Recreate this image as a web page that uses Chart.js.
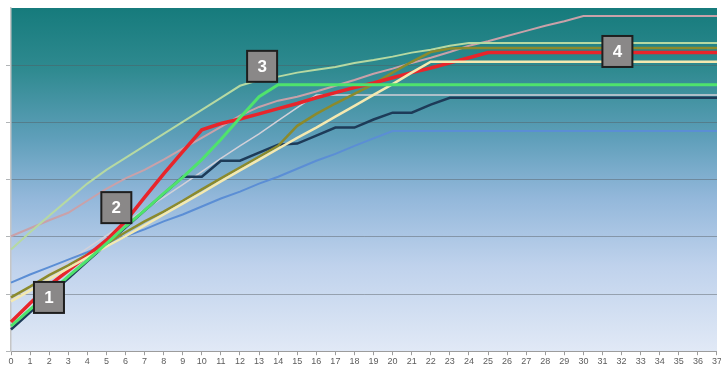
<!DOCTYPE html>
<html>
<head>
<meta charset="utf-8">
<script src="https://cdn.jsdelivr.net/npm/chart.js@4.4.1/dist/chart.umd.min.js"></script>
<style>
  html, body { margin: 0; padding: 0; background: #ffffff; overflow: hidden; width: 721px; height: 368px; }
  #wrap { position: relative; width: 723px; height: 368px; }
</style>
</head>
<body>
<div id="wrap"><canvas id="c"></canvas></div>
<script>
// Time steps along the horizontal axis
const steps = ['0','1','2','3','4','5','6','7','8','9','10','11','12','13','14','15','16','17','18','19',
  '20','21','22','23','24','25','26','27','28','29','30','31','32','33','34','35','36','37'];

// Cumulative progress of each run
const redRun = [0.51,0.84,1.15,1.41,1.67,1.94,2.27,2.69,3.10,3.49,3.87,3.98,4.06,4.15,4.24,4.33,4.43,4.52,4.61,4.69,
  4.78,4.87,4.95,5.04,5.13,5.22,5.22,5.22,5.22,5.22,5.22,5.22,5.22,5.22,5.22,5.22,5.22,5.22];
const navyRun = [0.38,0.68,0.98,1.27,1.57,1.87,2.16,2.46,2.75,3.05,3.05,3.33,3.33,3.47,3.61,3.63,3.77,3.91,3.91,4.05,
  4.17,4.17,4.31,4.43,4.43,4.43,4.43,4.43,4.43,4.43,4.43,4.43,4.43,4.43,4.43,4.43,4.43,4.43];
const greenRun = [0.44,0.73,1.01,1.31,1.59,1.88,2.18,2.46,2.76,3.04,3.35,3.70,4.08,4.45,4.66,4.66,4.66,4.66,4.66,4.66,
  4.66,4.66,4.66,4.66,4.66,4.66,4.66,4.66,4.66,4.66,4.66,4.66,4.66,4.66,4.66,4.66,4.66,4.66];
const paleGreenRun = [1.78,2.08,2.37,2.65,2.93,3.17,3.38,3.59,3.80,4.01,4.22,4.43,4.64,4.74,4.80,4.87,4.92,4.97,5.04,5.09,
  5.15,5.22,5.27,5.34,5.39,5.39,5.39,5.39,5.39,5.39,5.39,5.39,5.39,5.39,5.39,5.39,5.39,5.39];
const pinkRun = [2.01,2.15,2.29,2.42,2.63,2.84,3.02,3.17,3.35,3.54,3.73,3.92,4.12,4.27,4.38,4.45,4.54,4.64,4.74,4.85,
  4.94,5.04,5.13,5.23,5.34,5.42,5.51,5.60,5.69,5.77,5.86,5.86,5.86,5.86,5.86,5.86,5.86,5.86];
const oliveRun = [0.94,1.13,1.33,1.50,1.69,1.88,2.08,2.27,2.44,2.63,2.83,3.02,3.21,3.40,3.59,3.94,4.15,4.33,4.50,4.67,
  4.87,5.06,5.23,5.29,5.30,5.30,5.30,5.30,5.30,5.30,5.30,5.30,5.30,5.30,5.30,5.30,5.30,5.30];
const creamRun = [0.87,1.06,1.26,1.45,1.64,1.83,2.01,2.20,2.39,2.58,2.77,2.97,3.16,3.35,3.54,3.73,3.91,4.10,4.29,4.48,
  4.67,4.87,5.06,5.06,5.06,5.06,5.06,5.06,5.06,5.06,5.06,5.06,5.06,5.06,5.06,5.06,5.06,5.06];
const blueRun = [1.20,1.34,1.47,1.60,1.73,1.87,2.01,2.13,2.27,2.39,2.53,2.67,2.79,2.93,3.05,3.19,3.33,3.45,3.59,3.72,
  3.85,3.85,3.85,3.85,3.85,3.85,3.85,3.85,3.85,3.85,3.85,3.85,3.85,3.85,3.85,3.85,3.85,3.85];
const greyRun = [0.91,1.13,1.36,1.57,1.80,2.02,2.25,2.48,2.69,2.91,3.14,3.37,3.59,3.80,4.03,4.26,4.48,4.48,4.48,4.48,
  4.48,4.48,4.48,4.48,4.48,4.48,4.48,4.48,4.48,4.48,4.48,4.48,4.48,4.48,4.48,4.48,4.48,4.48];

// Numbered call-outs: label, step, level
const calloutText = ['1', '2', '3', '4'];
const calloutStep = [1.99, 5.52, 13.16, 31.78];
const calloutLevel = [0.94, 2.51, 4.98, 5.24];

// Plot-area fill: teal at the top fading to pale blue at the bottom
const plotBackground = {
  id: 'plotBackground',
  beforeDraw(chart) {
    const { ctx, chartArea: a } = chart;
    const g = ctx.createLinearGradient(0, a.top, 0, a.bottom);
    g.addColorStop(0.00, '#167b7c');
    g.addColorStop(0.18, '#2f8a90');
    g.addColorStop(0.38, '#5f9fba');
    g.addColorStop(0.55, '#92b7da');
    g.addColorStop(0.75, '#bfd2ec');
    g.addColorStop(1.00, '#e1e9f6');
    ctx.save();
    ctx.fillStyle = g;
    ctx.fillRect(a.left, a.top, a.right - a.left, a.bottom - a.top);
    ctx.restore();
  }
};

// Grey numbered boxes drawn over the lines
const callouts = {
  id: 'callouts',
  afterDatasetsDraw(chart) {
    const { ctx, scales: { x, y } } = chart;
    ctx.save();
    calloutText.forEach((t, i) => {
      const cx = x.getPixelForValue(calloutStep[i]);
      const cy = y.getPixelForValue(calloutLevel[i]);
      const w = 30, h = 31;
      ctx.fillStyle = '#8a8888';
      ctx.fillRect(cx - w / 2, cy - h / 2, w, h);
      ctx.lineWidth = 2;
      ctx.strokeStyle = '#1e1e1e';
      ctx.strokeRect(cx - w / 2, cy - h / 2, w, h);
      ctx.fillStyle = '#ffffff';
      ctx.font = 'bold 17px "Liberation Sans", Arial, sans-serif';
      ctx.textAlign = 'center';
      ctx.textBaseline = 'middle';
      ctx.fillText(t, cx, cy + 1);
    });
    ctx.restore();
  }
};

function run(data, color, width) {
  return {
    data: data,
    borderColor: color,
    borderWidth: width,
    pointRadius: 0,
    pointHoverRadius: 0,
    tension: 0,
    fill: false
  };
}

new Chart(document.getElementById('c'), {
  type: 'line',
  data: {
    labels: steps,
    datasets: [
      run(greenRun, '#4fe36c', 3),
      run(creamRun, '#f4e9b0', 2.5),
      run(redRun, '#e8252b', 3.5),
      run(oliveRun, '#8b8a2c', 2.5),
      run(navyRun, '#1d3b58', 2.5),
      run(paleGreenRun, '#b6d9a2', 2),
      run(pinkRun, '#c9a1a9', 2),
      run(blueRun, '#5b8ed5', 2),
      run(greyRun, '#d2d0d8', 1.5)
    ]
  },
  options: {
    responsive: true,
    maintainAspectRatio: false,
    animation: false,
    events: [],
    layout: { padding: { top: 8, left: 6, right: 0, bottom: 0 } },
    plugins: {
      legend: { display: false },
      tooltip: { enabled: false },
      title: { display: false }
    },
    scales: {
      x: {
        type: 'category',
        offset: false,
        grid: {
          display: true,
          drawOnChartArea: false,
          drawTicks: true,
          tickLength: 4,
          color: '#9c9c9c'
        },
        border: { display: true, color: '#9c9c9c', width: 1 },
        ticks: {
          autoSkip: false,
          maxRotation: 0,
          minRotation: 0,
          padding: 1,
          color: '#5c5c5c',
          font: { family: '"Liberation Sans", Arial, sans-serif', size: 9 }
        }
      },
      y: {
        type: 'linear',
        min: 0,
        max: 6,
        ticks: { display: false, stepSize: 1 },
        grid: {
          drawTicks: true,
          tickLength: 5,
          lineWidth: 1,
          color: (c) => (c.tick && c.tick.value === 6) ? 'rgba(0,0,0,0)' : 'rgba(85,90,95,0.45)'
        },
        border: { display: true, color: '#c6c6c6', width: 1.5 }
      }
    }
  },
  plugins: [plotBackground, callouts]
});
</script>
</body>
</html>
